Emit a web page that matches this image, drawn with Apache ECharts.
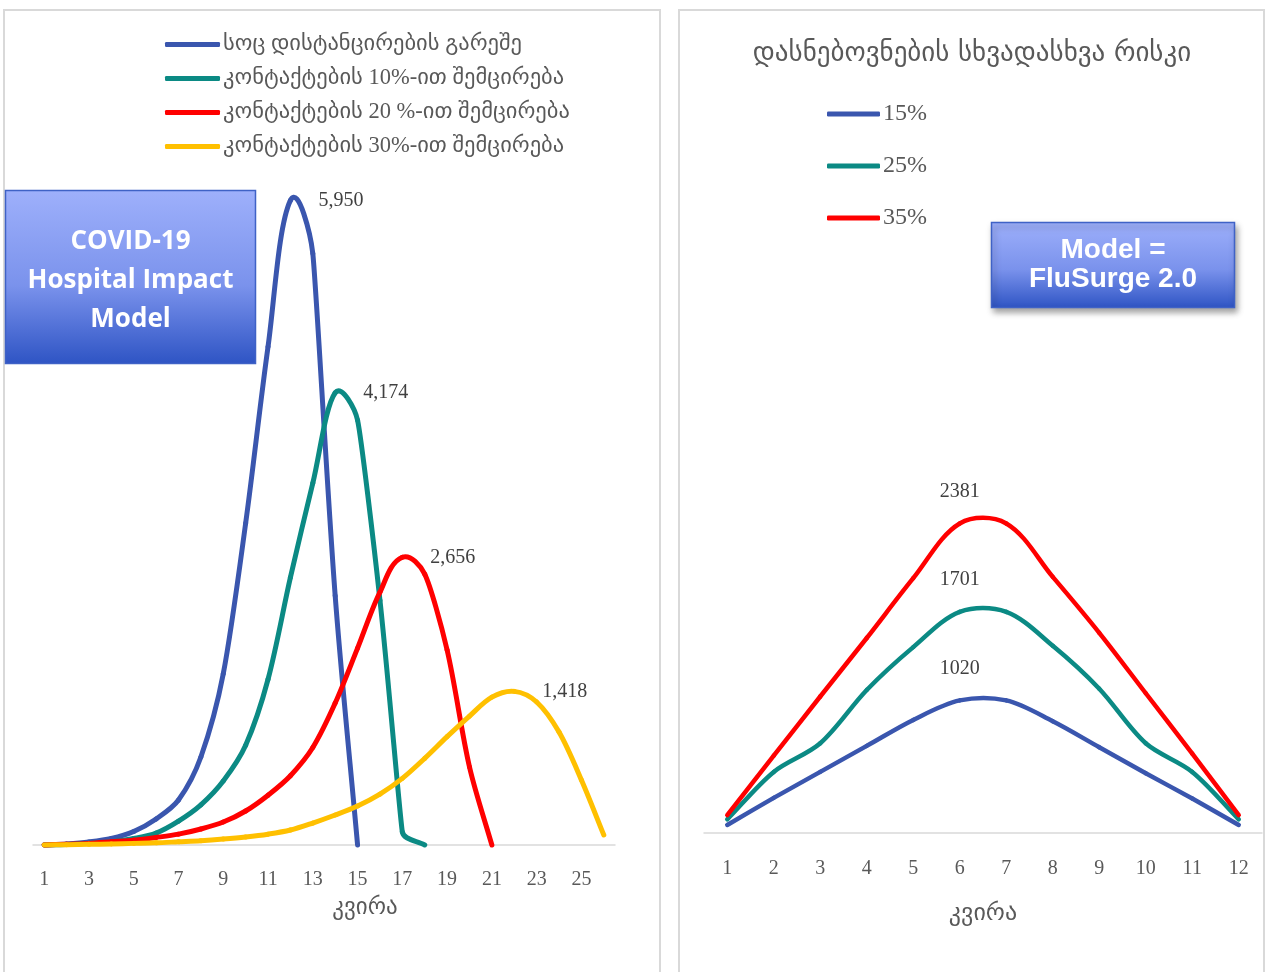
<!DOCTYPE html>
<html><head><meta charset="utf-8">
<script src="https://cdn.jsdelivr.net/npm/echarts@6/dist/echarts.min.js"></script>
<style>html,body{margin:0;padding:0;background:#fff}#c{width:1269px;height:972px}</style>
</head><body><div id="c"></div>
<script>
// ---------- left chart data ----------
const weeksLeft = ['1','2','3','4','5','6','7','8','9','10','11','12','13','14','15','16','17','18','19','20','21','22','23','24','25','26'];
const namesLeft = ['სოც დისტანცირების გარეშე','კონტაქტების 10%-ით შემცირება','კონტაქტების 20 %-ით შემცირება','კონტაქტების 30%-ით შემცირება'];
const noDistancing = [0, 10, 28, 60, 125, 240, 415, 812, 1580, 2970, 4600, 5950, 5460, 2300, 0];
const reduce10 = [0, 5, 15, 30, 60, 110, 220, 370, 590, 920, 1530, 2470, 3340, 4174, 3920, 2260, 120, 0];
const reduce20 = [0, 8, 15, 30, 45, 70, 100, 148, 212, 314, 460, 640, 900, 1310, 1817, 2334, 2656, 2500, 1800, 720, 0];
const reduce30 = [0, 3, 6, 10, 15, 20, 30, 40, 55, 74, 100, 138, 203, 277, 360, 470, 615, 800, 1000, 1190, 1365, 1418, 1320, 1042, 600, 92];
const leftColors = ['#3a56ae', '#0b8a84', '#ff0000', '#ffc000'];

// ---------- right chart data ----------
const weeksRight = ['1','2','3','4','5','6','7','8','9','10','11','12'];
const namesRight = ['15%','25%','35%'];
const risk15 = [62, 270, 470, 670, 870, 1020, 1020, 860, 660, 460, 265, 62];
const risk25 = [105, 470, 690, 1100, 1430, 1701, 1701, 1440, 1110, 690, 470, 105];
const risk35 = [138, 595, 1050, 1500, 1960, 2381, 2381, 1970, 1540, 1075, 610, 138];
const rightColors = ['#3a56ae', '#0b8a84', '#ff0000'];

const rightTitle = 'დასნებოვნების სხვადასხვა რისკი';
const axisName = 'კვირა';

const FONT = "'Liberation Serif', 'DejaVu Sans', serif";
const GEO = "'DejaVu Sans', 'Liberation Serif', sans-serif";
const S = 0.32; // spline control-point factor (Excel-like smoothing)

function argMax(arr) { let m = 0; arr.forEach((v, i) => { if (v > arr[m]) m = i; }); return m; }

// Smoothed line drawn segment by segment through the axes' own coordinate mapping
function splineSeries(name, arr, color, xi, w, fmt, labelMode) {
  const peak = argMax(arr);
  const n = arr.length;
  return {
    name, type: 'custom', xAxisIndex: xi, yAxisIndex: xi,
    data: arr.map((v, i) => [i, v]),
    encode: { x: 0, y: 1 },
    itemStyle: { color },
    silent: true, animation: false, clip: false, z: 3,
    renderItem: (params, api) => {
      const i = params.dataIndex;
      const P = k => api.coord([k, arr[k]]);
      const children = [];
      if (i < n - 1) {
        const p0 = P(Math.max(i - 1, 0)), p1 = P(i), p2 = P(i + 1), p3 = P(Math.min(i + 2, n - 1));
        const d = (a, b) => Math.hypot(b[0] - a[0], b[1] - a[1]);
        const len = d(p1, p2);
        const l0 = d(p0, p1) || len, l3 = d(p2, p3) || len;
        const a1 = S * Math.min(len, 1.5 * l0), a2 = S * Math.min(len, 1.5 * l3);
        const t = (a, b) => { const dx = b[0] - a[0], dy = b[1] - a[1], l = Math.hypot(dx, dy) || 1; return [dx / l, dy / l]; };
        const t1 = t(p0, p2), t2 = t(p1, p3);
        children.push({
          type: 'bezierCurve',
          shape: { x1: p1[0], y1: p1[1], x2: p2[0], y2: p2[1],
            cpx1: p1[0] + t1[0] * a1, cpy1: p1[1] + t1[1] * a1,
            cpx2: p2[0] - t2[0] * a2, cpy2: p2[1] - t2[1] * a2 },
          style: { stroke: color, lineWidth: w, fill: null, lineCap: 'round', lineJoin: 'round' }
        });
      }
      if (i === peak) {
        const p = P(i);
        const right = labelMode === 'right';
        children.push({
          type: 'text', x: right ? p[0] + 28 : p[0], y: right ? p[1] : p[1] - 32,
          style: { text: fmt(arr[i]), fill: '#404040', font: "20px 'Liberation Serif'",
            textAlign: right ? 'left' : 'center', textVerticalAlign: 'middle' }
        });
      }
      return { type: 'group', children };
    }
  };
}
const fmtComma = v => v.toLocaleString('en-US');
const fmtPlain = v => String(v);

const series = [];
[noDistancing, reduce10, reduce20, reduce30].forEach((arr, i) => {
  series.push(splineSeries(namesLeft[i], arr, leftColors[i], 0, 5, fmtComma, 'right'));
});
[risk15, risk25, risk35].forEach((arr, i) => {
  series.push(splineSeries(namesRight[i], arr, rightColors[i], 1, 4.5, fmtPlain, 'top'));
});

const axisLabelStyle = { fontFamily: FONT, fontSize: 20, color: '#595959' };

const chart = echarts.init(document.getElementById('c'), null, { renderer: 'canvas' });
chart.setOption({
  animation: false,
  backgroundColor: '#ffffff',
  title: {
    text: rightTitle, left: 972, top: 40, textAlign: 'center', padding: 0,
    textStyle: { fontFamily: GEO, fontSize: 27, fontWeight: 'normal', color: '#595959' }
  },
  legend: [
    { data: namesLeft, orient: 'vertical', left: 165, top: 33, itemGap: 11, padding: 0,
      icon: 'roundRect', itemWidth: 55, itemHeight: 5, selectedMode: false,
      textStyle: { fontFamily: FONT, fontSize: 22.5, color: '#595959', padding: [0, 0, 0, -2] } },
    { data: namesRight, orient: 'vertical', left: 827, top: 102, itemGap: 28, padding: 0,
      icon: 'roundRect', itemWidth: 53, itemHeight: 5, selectedMode: false,
      textStyle: { fontFamily: FONT, fontSize: 24, color: '#595959', padding: [0, 0, 0, -2] } }
  ],
  grid: [
    { left: 33, top: 195, width: 582, height: 650 },
    { left: 704, top: 443, width: 558, height: 390 }
  ],
  xAxis: [
    { type: 'category', gridIndex: 0, data: weeksLeft, boundaryGap: true,
      axisLine: { lineStyle: { color: '#d9d9d9', width: 1.5 } }, axisTick: { show: false },
      axisLabel: Object.assign({ interval: 1, margin: 25 }, axisLabelStyle),
      name: axisName, nameLocation: 'middle', nameGap: 52,
      nameTextStyle: { fontFamily: GEO, fontSize: 23, color: '#595959', padding: [0, 0, 0, 82] } },
    { type: 'category', gridIndex: 1, data: weeksRight, boundaryGap: true,
      axisLine: { lineStyle: { color: '#d9d9d9', width: 1.5 } }, axisTick: { show: false },
      axisLabel: Object.assign({ interval: 0, margin: 26 }, axisLabelStyle),
      name: axisName, nameLocation: 'middle', nameGap: 69,
      nameTextStyle: { fontFamily: GEO, fontSize: 24, color: '#595959' } }
  ],
  yAxis: [
    { type: 'value', gridIndex: 0, min: 0, max: 6000, show: false, splitLine: { show: false } },
    { type: 'value', gridIndex: 1, min: 0, max: 3000, show: false, splitLine: { show: false } }
  ],
  series,
  graphic: [
    { type: 'rect', shape: { x: 4, y: 10, width: 656, height: 975 }, style: { fill: 'none', stroke: '#d9d9d9', lineWidth: 2 }, silent: true, z: -10 },
    { type: 'rect', shape: { x: 679, y: 10, width: 585, height: 975 }, style: { fill: 'none', stroke: '#d9d9d9', lineWidth: 2 }, silent: true, z: -10 },
    { type: 'rect', shape: { x: 5.5, y: 190.5, width: 250, height: 173 },
      style: { fill: new echarts.graphic.LinearGradient(0, 0, 0, 1, [{ offset: 0, color: '#9eb0fb' }, { offset: 0.55, color: '#7a92ec' }, { offset: 1, color: '#2e54c4' }]),
        stroke: '#3f62c6', lineWidth: 1.5 }, silent: true, z: 10 },
    { type: 'text', x: 130.5, y: 242, style: { text: 'COVID-19', fill: '#ffffff', font: "bold 26px 'Open Sans'", textAlign: 'center', textVerticalAlign: 'middle' }, silent: true, z: 11 },
    { type: 'text', x: 130.5, y: 281, style: { text: 'Hospital Impact', fill: '#ffffff', font: "bold 26px 'Open Sans'", textAlign: 'center', textVerticalAlign: 'middle' }, silent: true, z: 11 },
    { type: 'text', x: 130.5, y: 320, style: { text: 'Model', fill: '#ffffff', font: "bold 26px 'Open Sans'", textAlign: 'center', textVerticalAlign: 'middle' }, silent: true, z: 11 },
    { type: 'rect', shape: { x: 991.5, y: 222.5, width: 243, height: 85 },
      style: { fill: new echarts.graphic.LinearGradient(0, 0, 0, 1, [{ offset: 0, color: '#9eb0fb' }, { offset: 0.55, color: '#7a92ec' }, { offset: 1, color: '#2e54c4' }]),
        stroke: '#3f62c6', lineWidth: 1.5, shadowColor: 'rgba(0,0,0,0.35)', shadowBlur: 6, shadowOffsetX: 2, shadowOffsetY: 4 }, silent: true, z: 10 },
    { type: 'text', x: 1113, y: 250.5, style: { text: 'Model =', fill: '#ffffff', font: "bold 28px 'Liberation Sans'", textAlign: 'center', textVerticalAlign: 'middle' }, silent: true, z: 11 },
    { type: 'text', x: 1113, y: 279.5, style: { text: 'FluSurge 2.0', fill: '#ffffff', font: "bold 28px 'Liberation Sans'", textAlign: 'center', textVerticalAlign: 'middle' }, silent: true, z: 11 }
  ]
});
</script>
</body></html>
